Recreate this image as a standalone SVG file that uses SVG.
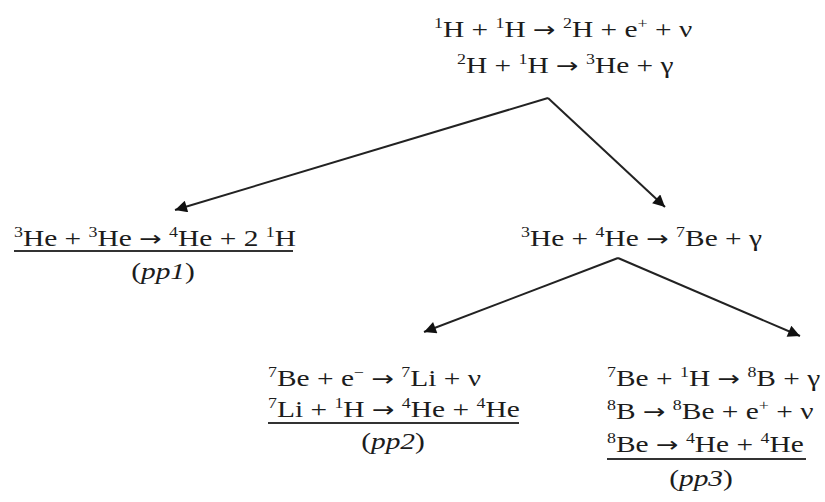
<svg xmlns="http://www.w3.org/2000/svg" width="825" height="502" viewBox="0 0 825 502">
<defs>
<marker id="ah" viewBox="0 0 10 10" refX="10" refY="5" markerWidth="17" markerHeight="12" markerUnits="userSpaceOnUse" orient="auto">
<path d="M0,0 L10,5 L0,10 z" fill="#111"/>
</marker>
<style>
text{font-family:"Liberation Serif","Times New Roman",serif;font-size:23px;fill:#1c1c1c}
.s{font-size:14px}
.a{font-family:"DejaVu Sans",sans-serif;font-size:21px}
.i{font-style:italic}
.c{stroke:#222;stroke-width:2;fill:none}
.u{stroke:#333;stroke-width:2}
</style>
</defs>
<rect width="825" height="502" fill="#fff"/>
<g id="top">
<g transform="translate(434,37) scale(1.28,1)"><text x="0" y="0"><tspan class="s" dy="-9">1</tspan><tspan dy="9">H + </tspan><tspan class="s" dy="-9">1</tspan><tspan dy="9">H </tspan><tspan class="a">→</tspan><tspan> </tspan><tspan class="s" dy="-9">2</tspan><tspan dy="9">H + e</tspan><tspan class="s" dy="-9">+</tspan><tspan dy="9"> + ν</tspan></text></g>
<g transform="translate(457,73) scale(1.28,1)"><text x="0" y="0"><tspan class="s" dy="-9">2</tspan><tspan dy="9">H + </tspan><tspan class="s" dy="-9">1</tspan><tspan dy="9">H </tspan><tspan class="a">→</tspan><tspan> </tspan><tspan class="s" dy="-9">3</tspan><tspan dy="9">He + γ</tspan></text></g>
</g>
<g id="pp1">
<g transform="translate(14,246) scale(1.28,1)"><text x="0" y="0"><tspan class="s" dy="-9">3</tspan><tspan dy="9">He + </tspan><tspan class="s" dy="-9">3</tspan><tspan dy="9">He </tspan><tspan class="a">→</tspan><tspan> </tspan><tspan class="s" dy="-9">4</tspan><tspan dy="9">He + 2 </tspan><tspan class="s" dy="-9">1</tspan><tspan dy="9">H</tspan></text></g>
<line class="u" x1="14" y1="251" x2="293" y2="251"/>
<g transform="translate(163,279) scale(1.28,1)"><text x="0" y="0" text-anchor="middle">(<tspan class="i">pp1</tspan>)</text></g>
</g>
<g id="be7">
<g transform="translate(521,246) scale(1.28,1)"><text x="0" y="0"><tspan class="s" dy="-9">3</tspan><tspan dy="9">He + </tspan><tspan class="s" dy="-9">4</tspan><tspan dy="9">He </tspan><tspan class="a">→</tspan><tspan> </tspan><tspan class="s" dy="-9">7</tspan><tspan dy="9">Be + γ</tspan></text></g>
</g>
<g id="pp2">
<g transform="translate(268,386) scale(1.28,1)"><text x="0" y="0"><tspan class="s" dy="-9">7</tspan><tspan dy="9">Be + e</tspan><tspan class="s" dy="-9">−</tspan><tspan dy="9"> </tspan><tspan class="a">→</tspan><tspan> </tspan><tspan class="s" dy="-9">7</tspan><tspan dy="9">Li + ν</tspan></text></g>
<g transform="translate(268,417) scale(1.28,1)"><text x="0" y="0"><tspan class="s" dy="-9">7</tspan><tspan dy="9">Li + </tspan><tspan class="s" dy="-9">1</tspan><tspan dy="9">H </tspan><tspan class="a">→</tspan><tspan> </tspan><tspan class="s" dy="-9">4</tspan><tspan dy="9">He + </tspan><tspan class="s" dy="-9">4</tspan><tspan dy="9">He</tspan></text></g>
<line class="u" x1="268" y1="423" x2="519" y2="423"/>
<g transform="translate(393,449) scale(1.28,1)"><text x="0" y="0" text-anchor="middle">(<tspan class="i">pp2</tspan>)</text></g>
</g>
<g id="pp3">
<g transform="translate(607,386) scale(1.28,1)"><text x="0" y="0"><tspan class="s" dy="-9">7</tspan><tspan dy="9">Be + </tspan><tspan class="s" dy="-9">1</tspan><tspan dy="9">H </tspan><tspan class="a">→</tspan><tspan> </tspan><tspan class="s" dy="-9">8</tspan><tspan dy="9">B + γ</tspan></text></g>
<g transform="translate(607,419) scale(1.28,1)"><text x="0" y="0"><tspan class="s" dy="-9">8</tspan><tspan dy="9">B </tspan><tspan class="a">→</tspan><tspan> </tspan><tspan class="s" dy="-9">8</tspan><tspan dy="9">Be + e</tspan><tspan class="s" dy="-9">+</tspan><tspan dy="9"> + ν</tspan></text></g>
<g transform="translate(607,452) scale(1.28,1)"><text x="0" y="0"><tspan class="s" dy="-9">8</tspan><tspan dy="9">Be </tspan><tspan class="a">→</tspan><tspan> </tspan><tspan class="s" dy="-9">4</tspan><tspan dy="9">He + </tspan><tspan class="s" dy="-9">4</tspan><tspan dy="9">He</tspan></text></g>
<line class="u" x1="607" y1="459" x2="806" y2="459"/>
<g transform="translate(701,486) scale(1.28,1)"><text x="0" y="0" text-anchor="middle">(<tspan class="i">pp3</tspan>)</text></g>
</g>
<g id="connectors">
<path class="c" d="M548,98 L175,210" marker-end="url(#ah)"/>
<path class="c" d="M548,98 L665,207" marker-end="url(#ah)"/>
<path class="c" d="M618,258 L424,332" marker-end="url(#ah)"/>
<path class="c" d="M618,258 L800,336" marker-end="url(#ah)"/>
</g>
</svg>
